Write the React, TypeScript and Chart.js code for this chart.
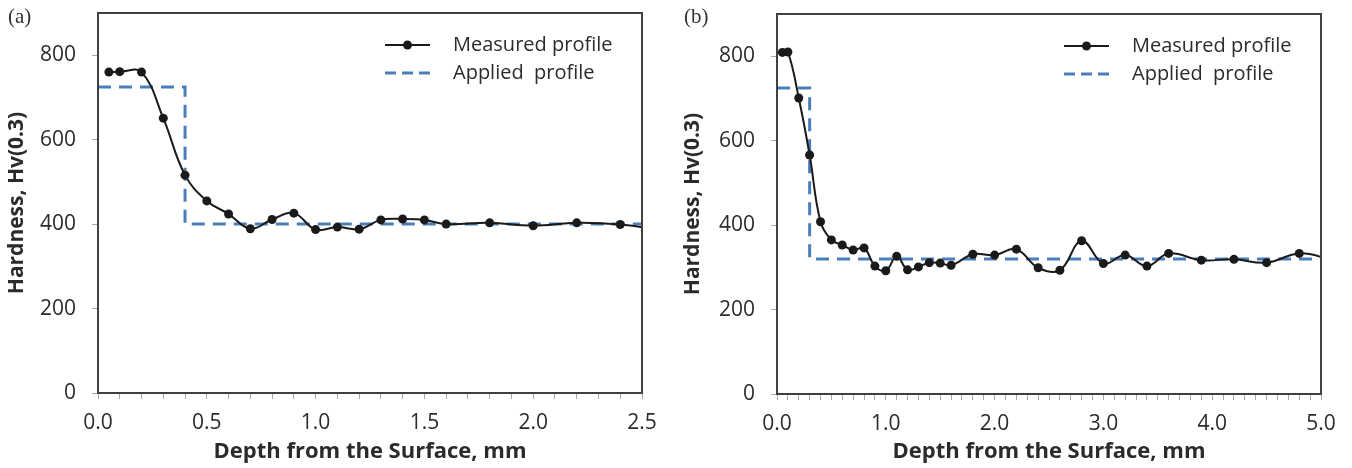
import React, { useEffect, useRef } from "react";
import { Chart, registerables } from "chart.js";
Chart.register(...registerables);

// ---- Data: panel (a) ----
const depthA = [0.05, 0.1, 0.2, 0.3, 0.4, 0.5, 0.6, 0.7, 0.8, 0.9, 1.0, 1.1, 1.2, 1.3, 1.4, 1.5, 1.6, 1.8, 2.0, 2.2, 2.4, 2.6];
const hardA = [760, 761, 760, 651, 516, 455, 424, 389, 411, 426, 387, 393, 388, 410, 412, 410, 400, 403, 396, 403, 399, 385];
const appliedDepthA = [0, 0.4, 0.4, 2.5];
const appliedHardA = [725, 725, 400, 400];

// ---- Data: panel (b) ----
const depthB = [0.05, 0.1, 0.2, 0.3, 0.4, 0.5, 0.6, 0.7, 0.8, 0.9, 1.0, 1.1, 1.2, 1.3, 1.4, 1.5, 1.6, 1.8, 2.0, 2.2, 2.4, 2.6, 2.8, 3.0, 3.2, 3.4, 3.6, 3.9, 4.2, 4.5, 4.8, 5.1];
const hardB = [809, 810, 701, 566, 408, 365, 353, 341, 346, 303, 292, 326, 294, 301, 311, 310, 305, 331, 329, 343, 299, 293, 363, 309, 329, 303, 333, 317, 319, 311, 333, 318];
const appliedDepthB = [0, 0.3, 0.3, 5.0];
const appliedHardB = [725, 725, 320, 320];

const yTicks = [0, 200, 400, 600, 800];
const xLabelStepA = 0.5;
const xLabelStepB = 1.0;

const seriesNames = ["Measured profile", "Applied  profile"];
const xTitle = "Depth from the Surface, mm";
const yTitle = "Hardness, Hv(0.3)";

const FONT = "'Open Sans', 'Noto Sans', sans-serif";
const TEXT = "#2b2b2b";
const W = 676;
const H = 468;

const framePlugin = {
  id: "frameLegend",
  afterDatasetsDraw(chart: any) {
    const { ctx, chartArea: a } = chart;
    ctx.save();
    ctx.strokeStyle = "#404040";
    ctx.lineWidth = 2;
    ctx.strokeRect(a.left, a.top, a.right - a.left, a.bottom - a.top);

    const x0 = a.left + 287;
    const x1 = a.left + 332;
    const tx = a.left + 355;
    const ys = [a.top + 32, a.top + 60];
    const ds = chart.data.datasets;
    ctx.font = `20px ${FONT}`;
    ctx.textBaseline = "middle";
    ctx.textAlign = "left";

    // measured
    ctx.strokeStyle = ds[0].borderColor;
    ctx.lineWidth = 2;
    ctx.setLineDash([]);
    ctx.beginPath();
    ctx.moveTo(x0, ys[0]);
    ctx.lineTo(x1, ys[0]);
    ctx.stroke();
    ctx.fillStyle = ds[0].pointBackgroundColor;
    ctx.beginPath();
    ctx.arc((x0 + x1) / 2, ys[0], 4.5, 0, Math.PI * 2);
    ctx.fill();
    ctx.fillStyle = TEXT;
    ctx.fillText(ds[0].label, tx, ys[0]);

    // applied
    ctx.strokeStyle = ds[1].borderColor;
    ctx.lineWidth = 3;
    ctx.setLineDash([11, 6]);
    ctx.beginPath();
    ctx.moveTo(x0, ys[1]);
    ctx.lineTo(x1 + 2, ys[1]);
    ctx.stroke();
    ctx.setLineDash([]);
    ctx.fillStyle = TEXT;
    ctx.fillText(ds[1].label, tx, ys[1]);
    ctx.restore();
  },
};

function makeConfig(
  dx: number[], dy: number[], ax: number[], ay: number[],
  xMax: number, labelStep: number,
  plot: { left: number; right: number; top: number; bottom: number }
): any {
  return {
    type: "line",
    data: {
      datasets: [
        {
          label: seriesNames[0],
          data: dx.map((x, i) => ({ x, y: dy[i] })),
          borderColor: "#1a1a1a",
          backgroundColor: "#1a1a1a",
          pointBackgroundColor: "#1a1a1a",
          pointBorderColor: "#1a1a1a",
          borderWidth: 2,
          pointRadius: 4.5,
          pointBorderWidth: 0,
          tension: 0.4,
          fill: false,
        },
        {
          label: seriesNames[1],
          data: ax.map((x, i) => ({ x, y: ay[i] })),
          borderColor: "#4a7ebb",
          borderWidth: 3,
          borderDash: [13, 8],
          pointRadius: 0,
          tension: 0,
          fill: false,
        },
      ],
    },
    options: {
      animation: false,
      responsive: false,
      maintainAspectRatio: false,
      layout: { padding: { left: 0, top: plot.top, right: W - plot.right, bottom: 0 } },
      plugins: { legend: { display: false }, tooltip: { enabled: false } },
      scales: {
        x: {
          type: "linear",
          min: 0,
          max: xMax,
          afterFit: (s: any) => {
            s.height = H - plot.bottom;
            s.paddingLeft = 0;
            s.paddingRight = 0;
          },
          ticks: {
            stepSize: 0.1,
            autoSkip: false,
            maxRotation: 0,
            minRotation: 0,
            padding: 11,
            color: TEXT,
            font: { family: FONT, size: 21 },
            callback: (v: number) => {
              const r = v / labelStep;
              return Math.abs(r - Math.round(r)) < 1e-6 ? v.toFixed(1) : "";
            },
          },
          grid: { drawOnChartArea: false, drawTicks: true, tickLength: 6, color: "#a8a8a8", lineWidth: 1 },
          border: { display: false },
          title: {
            display: true,
            text: xTitle,
            color: TEXT,
            font: { family: FONT, size: 22, weight: "bold" },
            padding: { top: 0, bottom: 3 },
          },
        },
        y: {
          type: "linear",
          min: 0,
          max: 900,
          afterFit: (s: any) => {
            s.width = plot.left;
            s.paddingTop = 0;
            s.paddingBottom = 0;
          },
          afterBuildTicks: (s: any) => { s.ticks = yTicks.map((v) => ({ value: v })); },
          ticks: {
            padding: 16,
            color: TEXT,
            font: { family: FONT, size: 21 },
            callback: (v: number) => String(v),
          },
          grid: { drawOnChartArea: false, drawTicks: true, tickLength: 6, color: "#a8a8a8", lineWidth: 1 },
          border: { display: false },
          title: {
            display: true,
            text: yTitle,
            color: TEXT,
            font: { family: FONT, size: 21, weight: "bold" },
            padding: { top: 4, bottom: 0 },
          },
        },
      },
    },
    plugins: [framePlugin],
  };
}

function Panel(props: { cfg: any; label: string; left: number }) {
  const ref = useRef<HTMLCanvasElement | null>(null);
  useEffect(() => {
    if (!ref.current) return;
    const chart = new Chart(ref.current, props.cfg);
    return () => chart.destroy();
  }, []);
  return (
    <div style={{ position: "absolute", left: props.left, top: 0, width: W, height: H }}>
      <canvas ref={ref} width={W} height={H} style={{ width: W, height: H, display: "block" }} />
      <div
        style={{
          position: "absolute",
          left: 8,
          top: 4,
          fontFamily: "'Liberation Serif', 'DejaVu Serif', serif",
          fontSize: 21,
          color: "#333",
        }}
      >
        {props.label}
      </div>
    </div>
  );
}

export default function App() {
  const cfgA = makeConfig(depthA, hardA, appliedDepthA, appliedHardA, 2.5, xLabelStepA, { left: 98, right: 642, top: 13, bottom: 393 });
  const cfgB = makeConfig(depthB, hardB, appliedDepthB, appliedHardB, 5.0, xLabelStepB, { left: 101, right: 645, top: 14, bottom: 394 });
  return (
    <div style={{ position: "absolute", left: 0, top: 0, width: 1352, height: H, background: "#fff", overflow: "hidden" }}>
      <Panel cfg={cfgA} label="(a)" left={0} />
      <Panel cfg={cfgB} label="(b)" left={676} />
    </div>
  );
}
